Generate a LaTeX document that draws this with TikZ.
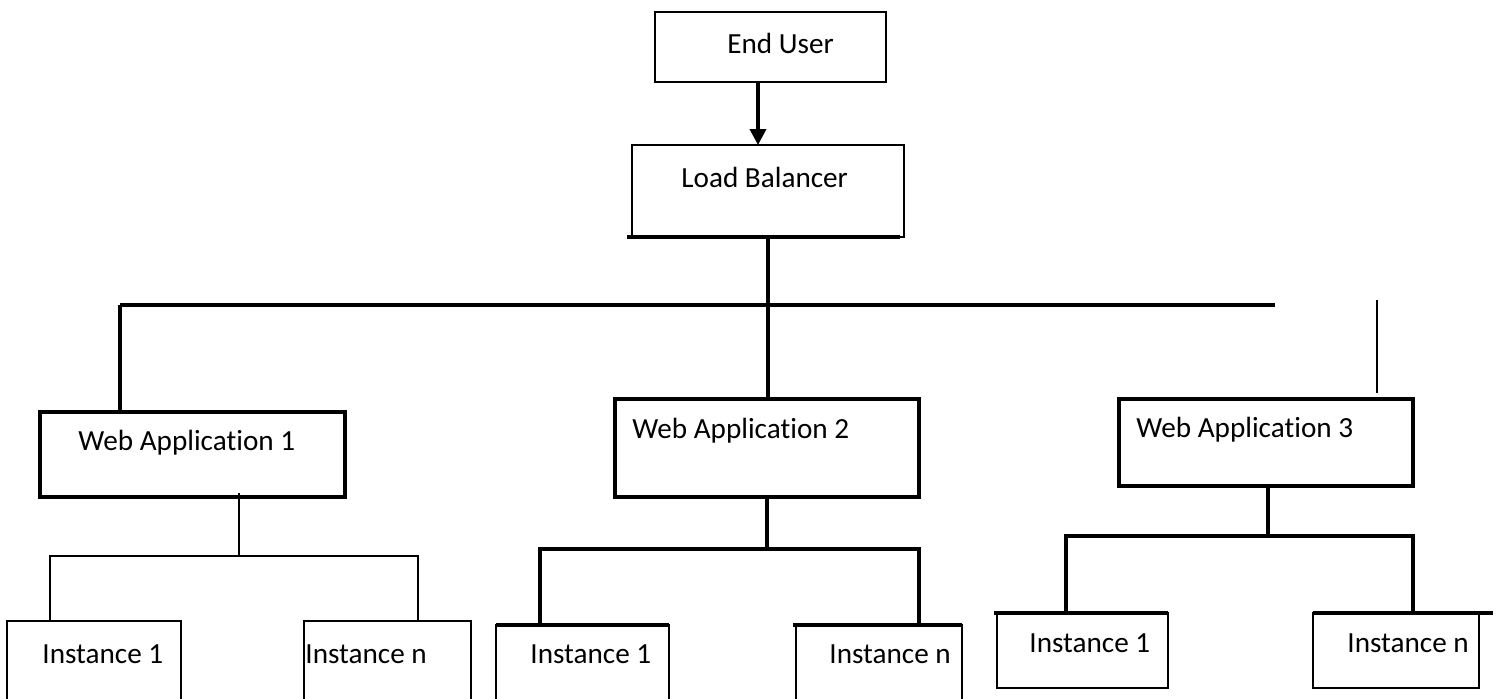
\documentclass[tikz,border=0pt]{standalone}
\usepackage{fontspec}
\setmainfont[Ligatures={NoCommon}]{Carlito}
\usetikzlibrary{arrows.meta}
\begin{document}
\begin{tikzpicture}[x=0.5pt,y=-0.5pt,
  thinbox/.style={draw, line width=0.8pt, inner sep=0pt, outer sep=0pt},
  thickbox/.style={draw, line width=1.7pt, inner sep=0pt, outer sep=0pt},
  lbl/.style={font=\fontsize{14.6}{16}\selectfont, inner sep=0pt, anchor=base west},
  thinln/.style={line width=0.8pt},
  thickln/.style={line width=1.8pt}]
\useasboundingbox (0,0) rectangle (1499,698);
\clip (0,0) rectangle (1499,698);
% boxes
\node[thinbox, minimum width=115.5pt, minimum height=35pt] (eu) at (770.5,47) {};
\node[thinbox, minimum width=136pt, minimum height=46pt] (lb) at (768,191) {};
\node[thickbox, minimum width=152.5pt, minimum height=42.5pt] (wa1) at (192.5,454.5) {};
\node[thickbox, minimum width=152pt, minimum height=49pt] (wa2) at (767,448) {};
\node[thickbox, minimum width=147pt, minimum height=43.5pt] (wa3) at (1266,442.5) {};
\node[thinbox, minimum width=87pt, minimum height=44.5pt] (i11) at (94,665.5) {};
\node[thinbox, minimum width=83.5pt, minimum height=44.5pt] (i1n) at (387.5,665.5) {};
\node[thinbox, minimum width=86.5pt, minimum height=42.5pt] (i21) at (582.5,667.5) {};
\node[thinbox, minimum width=83pt, minimum height=42.5pt] (i2n) at (879,667.5) {};
\node[thinbox, minimum width=85.5pt, minimum height=37.5pt] (i31) at (1082.5,650.5) {};
\node[thinbox, minimum width=83pt, minimum height=37.5pt] (i3n) at (1396,650.5) {};
% labels
\node[lbl] (eut) at (727,53) {End User};
\node[lbl] (lbt) at (681,187) {Load Balancer};
\node[lbl] (wa1t) at (78,450) {Web Application 1};
\node[lbl] (wa2t) at (632,438) {Web Application 2};
\node[lbl] (wa3t) at (1136,437) {Web Application 3};
\node[lbl] (i11t) at (42,663) {Instance 1};
\node[lbl] (i1nt) at (305,663) {Instance n};
\node[lbl] (i21t) at (530,663) {Instance 1};
\node[lbl] (i2nt) at (829,663) {Instance n};
\node[lbl] (i31t) at (1029,652) {Instance 1};
\node[lbl] (i3nt) at (1347,652) {Instance n};
% end user -> load balancer
\draw[thickln, -{Triangle[width=8pt,length=8pt]}] ([xshift=-6.25pt]eu.south) -- ([xshift=-6.25pt]eu.south |- lb.north);
\draw[thickln] ([xshift=-2.5pt]lb.south west) -- ([xshift=-2pt]lb.south east);
% bus
\coordinate (busL) at (120,305);
\coordinate (busR) at (1275,305);
\draw[thickln] (busL) -- (busR);
\draw[thickln] (lb.south) -- (lb.south |- busL);
\draw[thickln] (busL) -- (busL |- wa1.north);
\draw[thickln] (lb.south |- busL) -- (lb.south |- wa2.north);
\coordinate (st1) at (1377,300);
\draw[thinln, shorten >=3pt] (st1) -- (st1 |- wa3.north);
% web app 1 instances
\coordinate (j1) at (239,556);
\draw[thinln, shorten <=-2pt] (j1 |- wa1.south) -- (j1);
\draw[thinln] ([xshift=-22pt]i11.north) |- (j1) -| ([xshift=15.25pt]i1n.north);
% web app 2 instances
\coordinate (j2) at (767,549);
\draw[thickln] (wa2.south) -- (j2);
\draw[thickln] ([xshift=-21.25pt]i21.north) |- (j2) -| ([xshift=20pt]i2n.north);
\draw[thickln] (i21.north west) -- (i21.north east);
\draw[thickln] ([xshift=-1.5pt]i2n.north west) -- (i2n.north east);
% web app 3 instances
\coordinate (j3) at (1268,536);
\draw[thickln] (j3 |- wa3.south) -- (j3);
\draw[thickln] ([xshift=-8.25pt]i31.north) |- (j3) -| ([xshift=8.5pt]i3n.north);
\draw[thickln] ([xshift=-1.5pt]i31.north west) -- (i31.north east);
\draw[thickln] (i3n.north west) -- ([xshift=7pt]i3n.north east);
\end{tikzpicture}
\end{document}
